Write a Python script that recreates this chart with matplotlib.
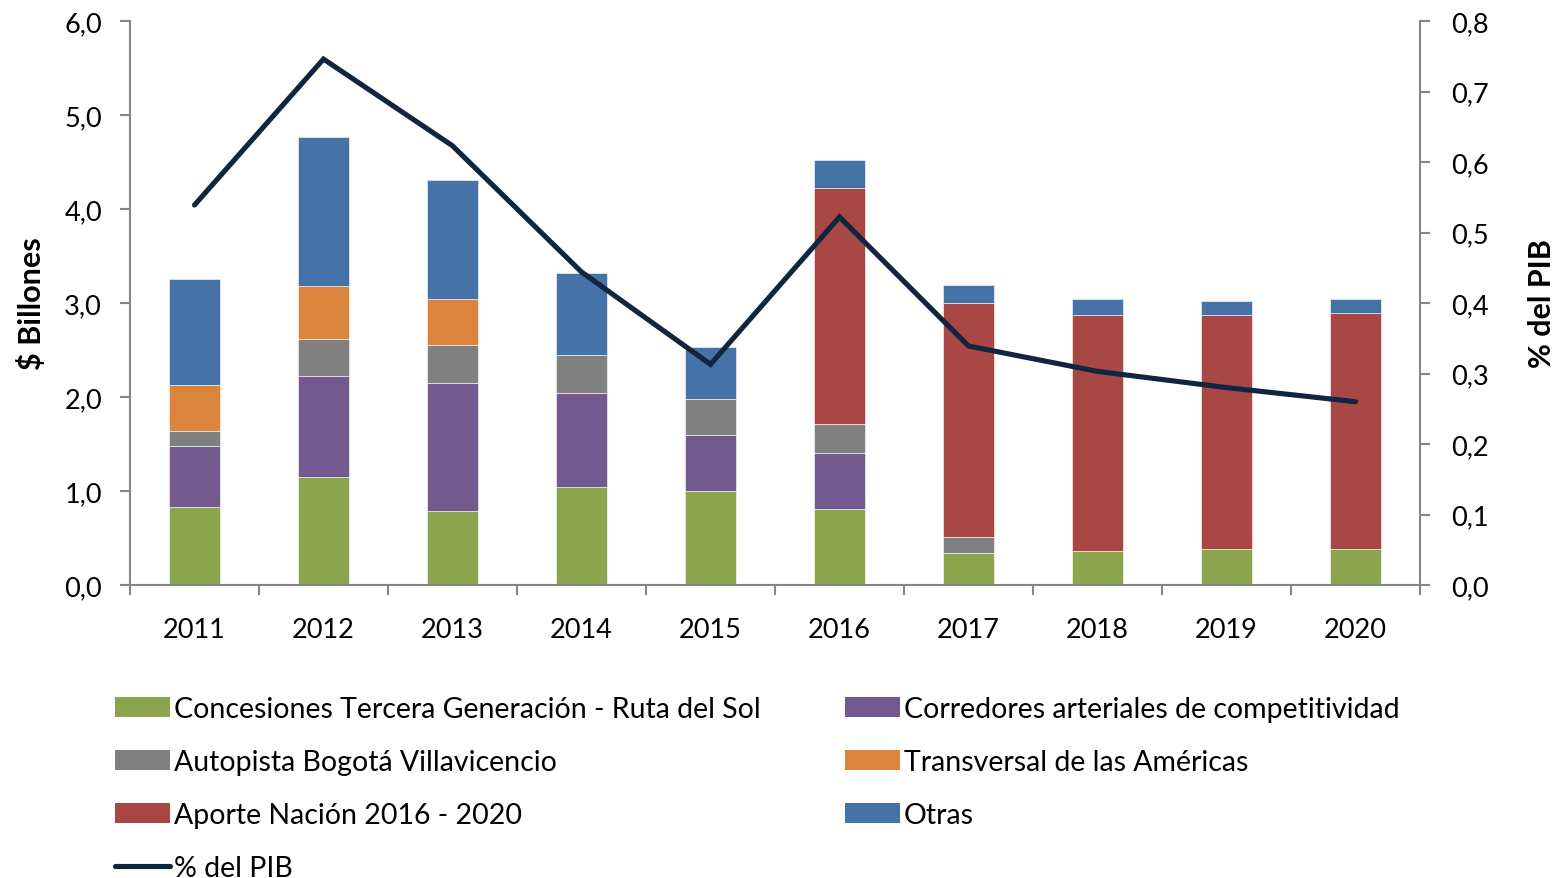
import matplotlib
matplotlib.use("Agg")
import matplotlib.pyplot as plt
import numpy as np
from matplotlib.ticker import FuncFormatter, FixedLocator
from matplotlib.patches import Patch
from matplotlib.lines import Line2D

plt.rcParams['font.family'] = ['Lato', 'DejaVu Sans']

years = ["2011", "2012", "2013", "2014", "2015", "2016", "2017", "2018", "2019", "2020"]
concesiones = [0.83, 1.15, 0.79, 1.04, 1.00, 0.81, 0.34, 0.36, 0.38, 0.38]
corredores = [0.65, 1.07, 1.36, 1.00, 0.60, 0.59, 0.00, 0.00, 0.00, 0.00]
autopista = [0.16, 0.40, 0.40, 0.41, 0.38, 0.31, 0.17, 0.00, 0.00, 0.00]
transversal = [0.49, 0.56, 0.49, 0.00, 0.00, 0.00, 0.00, 0.00, 0.00, 0.00]
aporte = [0.00, 0.00, 0.00, 0.00, 0.00, 2.51, 2.49, 2.51, 2.49, 2.51]
otras = [1.13, 1.59, 1.27, 0.87, 0.55, 0.30, 0.19, 0.17, 0.15, 0.15]
pib = [0.539, 0.746, 0.623, 0.444, 0.313, 0.522, 0.339, 0.303, 0.280, 0.260]

series = [
    ("Concesiones Tercera Generación - Ruta del Sol", concesiones, "#8AA54E"),
    ("Corredores arteriales de competitividad", corredores, "#735A8E"),
    ("Autopista Bogotá Villavicencio", autopista, "#808080"),
    ("Transversal de las Américas", transversal, "#DB843D"),
    ("Aporte Nación 2016 - 2020", aporte, "#A94745"),
    ("Otras", otras, "#4572A7"),
]
line_label = "% del PIB"
line_color = "#0F2540"

W, H = 1557, 879
fig = plt.figure(figsize=(W / 100, H / 100), dpi=100)
ax = fig.add_axes([130 / W, 1 - 586 / H, (1420 - 130) / W, (586 - 22) / H])
ax2 = ax.twinx()

x = np.arange(len(years))
bottom = np.zeros(len(years))
handles = {}
for name, vals, col in series:
    v = np.array(vals)
    ax.bar(x, v, width=0.40, bottom=bottom, color=col, edgecolor="white", linewidth=0.4, zorder=2)
    bottom += v
    handles[name] = Patch(facecolor=col, edgecolor="none")

ax2.plot(x, pib, color=line_color, lw=3.7, solid_capstyle="round", solid_joinstyle="miter", zorder=3)
handles[line_label] = Line2D([0], [0], color=line_color, lw=3.7, solid_capstyle="round")

ax.set_xlim(-0.5, len(years) - 0.5)
ax.set_ylim(0, 6.0)
ax2.set_ylim(0, 0.8)
ax.set_yticks(np.arange(0, 6.01, 1.0))
ax2.set_yticks(np.arange(0, 0.801, 0.1))
ax.yaxis.set_major_formatter(FuncFormatter(lambda v, p: f"{v:.1f}".replace(".", ",")))
ax2.yaxis.set_major_formatter(FuncFormatter(lambda v, p: f"{v:.1f}".replace(".", ",")))

ax.set_xticks(x)
ax.set_xticklabels(years)
ax.xaxis.set_minor_locator(FixedLocator(np.arange(-0.5, len(years), 1.0)))
ax.tick_params(axis="x", which="major", length=0, pad=23, labelsize=19.5)
ax.tick_params(axis="x", which="minor", length=7, width=1.5, color="#868686", direction="out")
ax.tick_params(axis="y", length=7.2, width=1.5, color="#868686", labelsize=19.5, pad=13)
ax2.tick_params(axis="y", length=7.2, width=1.5, color="#868686", labelsize=19.5, pad=15)

for a in (ax, ax2):
    a.spines["top"].set_visible(False)
    for s in ("left", "right", "bottom"):
        a.spines[s].set_color("#868686")
        a.spines[s].set_linewidth(1.5)
ax.spines["right"].set_visible(False)
ax2.spines["left"].set_visible(False)
ax2.spines["bottom"].set_visible(False)

ax.set_ylabel("$ Billones", fontsize=22, fontweight="bold")
ax2.set_ylabel("% del PIB", fontsize=22, fontweight="bold")
ax.yaxis.set_label_coords((46 - 130) / 1290, 0.5)
ax2.yaxis.set_label_coords((1528 - 130) / 1290, 0.5)

legkw = dict(loc="upper left", frameon=False, fontsize=20.5, handlelength=1.93,
             handleheight=0.67, handletextpad=0.14, labelspacing=0.95,
             borderpad=0, borderaxespad=0)
col1 = [series[0][0], series[2][0], series[4][0], line_label]
col2 = [series[1][0], series[3][0], series[5][0]]
leg1 = fig.legend([handles[k] for k in col1], col1, bbox_to_anchor=(115 / W, 1 - 697 / H), **legkw)
leg2 = fig.legend([handles[k] for k in col2], col2, bbox_to_anchor=(845 / W, 1 - 697 / H), **legkw)

fig.savefig("out.png", dpi=100)
